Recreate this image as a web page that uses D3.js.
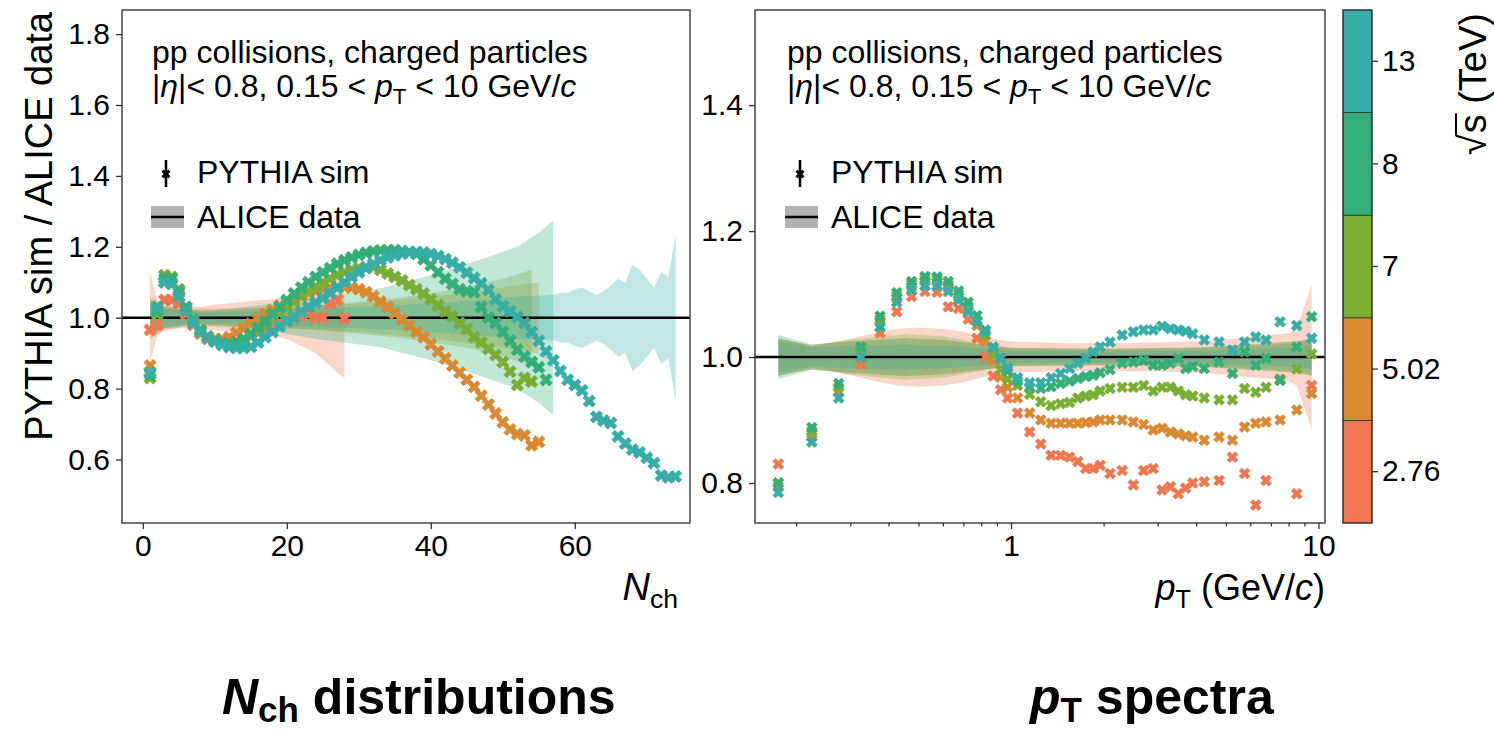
<!DOCTYPE html>
<html>
<head>
<meta charset="utf-8">
<script src="https://cdn.jsdelivr.net/npm/d3@7"></script>
<style>
  body { margin: 0; background: #fff; }
  text { font-family: "Liberation Sans", Arial, Helvetica, sans-serif; fill: #000; white-space: pre; }
</style>
</head>
<body>
<svg id="chart" width="1494" height="733"></svg>
<script>
// ---- energies / colours ----
var energies = ["2.76", "5.02", "7", "8", "13"];
var energyColors = ["#EF7651", "#DA8933", "#79AD34", "#33AE78", "#36ADA6"];

// ---- Nch panel: PYTHIA / ALICE ratio, one value per Nch bin ----
var nchBins = [1,2,3,4,5,6,7,8,9,10,11,12,13,14,15,16,17,18,19,20,21,22,23,24,25,26,27,28,29,30,
  31,32,33,34,35,36,37,38,39,40,41,42,43,44,45,46,47,48,49,50,51,52,53,54,55,56,57,58,59,60,
  61,62,63,64,65,66,67,68,69,70,71,72,73,74];
var nchRatio276 = [0.966,0.98,1.05,1.05,1.04,1.01,0.98,0.955,0.94,0.935,
  0.93,0.93,0.935,0.94,0.948,0.957,0.966,0.975,0.985,0.993,
  1.0,1.005,1.01,1.0,1.0,1.04,1.05,0.998];
var nchRatio502 = [0.865,1.03,1.10,1.10,1.07,1.025,0.99,0.962,0.948,0.94,
  0.94,0.945,0.958,0.97,0.983,0.997,1.01,1.022,1.034,1.045,
  1.053,1.062,1.07,1.076,1.08,1.083,1.085,1.086,1.085,1.08,
  1.072,1.06,1.045,1.03,1.012,0.995,0.978,0.96,0.945,0.925,
  0.905,0.885,0.865,0.845,0.825,0.805,0.78,0.755,0.73,0.705,
  0.685,0.672,0.668,0.64,0.65];
var nchRatio7 = [0.83,1.01,1.12,1.115,1.08,1.03,0.995,0.965,0.945,0.935,
  0.928,0.925,0.928,0.935,0.948,0.962,0.978,0.995,1.012,1.03,
  1.045,1.062,1.075,1.088,1.10,1.11,1.12,1.128,1.135,1.14,
  1.143,1.143,1.135,1.125,1.115,1.105,1.092,1.08,1.068,1.052,
  1.035,1.018,1.003,0.985,0.968,0.945,0.93,0.912,0.895,0.875,
  0.848,0.81,0.83,0.82];
var nchRatio8 = [0.84,1.02,1.11,1.11,1.075,1.03,0.995,0.965,0.945,0.935,
  0.928,0.926,0.93,0.94,0.955,0.972,0.99,1.01,1.03,1.05,
  1.068,1.085,1.10,1.115,1.128,1.14,1.152,1.162,1.17,1.177,
  1.183,1.187,1.19,1.19,1.19,1.188,1.185,1.18,1.165,1.148,
  1.128,1.11,1.095,1.08,1.075,1.072,1.03,1.0,0.985,0.96,
  0.935,0.91,0.89,0.875,0.86,0.825];
var nchRatio13 = [0.845,1.03,1.10,1.095,1.06,1.02,0.985,0.96,0.945,0.932,
  0.923,0.917,0.915,0.915,0.918,0.93,0.945,0.96,0.975,0.99,
  1.002,1.016,1.03,1.042,1.056,1.07,1.085,1.10,1.115,1.128,
  1.14,1.152,1.162,1.17,1.176,1.181,1.184,1.185,1.184,1.18,
  1.174,1.165,1.155,1.142,1.127,1.112,1.097,1.078,1.052,1.032,
  1.018,1.002,0.985,0.96,0.935,0.905,0.88,0.85,0.825,0.81,
  0.795,0.765,0.72,0.71,0.703,0.665,0.645,0.628,0.62,0.605,
  0.59,0.555,0.55,0.552];

// ALICE relative uncertainty (half width around 1) in the Nch panel
var nchBandX276 = [1,2,3,5,8,10,12,15,18,20,22,24,26,27,28];
var nchBandW276 = [0.125,0.05,0.035,0.03,0.03,0.037,0.04,0.047,0.052,0.06,0.08,0.1,0.135,0.155,0.17];
var nchBandX502 = [1,3,6,10,15,20,25,30,35,40,45,50,55];
var nchBandW502 = [0.06,0.035,0.025,0.025,0.028,0.03,0.035,0.04,0.05,0.06,0.07,0.085,0.1];
var nchBandX7 = [1,3,6,10,15,20,25,30,35,40,45,50,54];
var nchBandW7 = [0.05,0.03,0.02,0.02,0.025,0.03,0.035,0.045,0.055,0.07,0.085,0.11,0.135];
var nchBandX8 = [1,3,8,12,16,20,24,28,33,40,47,52,55,57];
var nchBandW8 = [0.05,0.03,0.02,0.025,0.035,0.045,0.06,0.07,0.083,0.12,0.165,0.2,0.24,0.275];
var nchBandX13 = [1,3,8,15,20,25,30,35,40,45,50,52,56,57,58,59,60,61,62,63,64,65,66,67,68,69,70,71,72,73,74];
var nchBandW13 = [0.04,0.025,0.015,0.018,0.022,0.026,0.03,0.035,0.04,0.047,0.055,0.06,0.063,0.065,0.07,0.07,
  0.08,0.085,0.075,0.065,0.075,0.09,0.11,0.1,0.15,0.135,0.11,0.085,0.13,0.115,0.235];

// ---- pT panel ----
var ptBins = [0.175,0.225,0.275,0.325,0.375,0.425,0.475,0.525,0.575,0.625,0.675,0.725,0.775,0.825,0.875,0.925,0.975,
  1.05,1.15,1.25,1.35,1.45,1.55,1.65,1.75,1.85,1.95,
  2.1,2.3,2.5,2.7,2.9,3.1,3.3,3.5,3.7,3.9,
  4.25,4.75,5.25,5.75,6.25,6.75,7.5,8.5,9.5];
var ptRatio276 = [0.83,0.873,0.945,0.988,1.038,1.072,1.096,1.104,1.103,1.08,1.077,1.06,1.03,1.0,0.97,0.948,0.935,
  0.911,0.881,0.862,0.844,0.844,0.841,0.834,0.823,0.823,0.828,
  0.815,0.82,0.797,0.82,0.823,0.789,0.794,0.783,0.792,0.8,
  0.802,0.804,0.841,0.815,0.765,0.804,0.965,0.783,0.955];
var ptRatio502 = [0.795,0.878,0.945,1.008,1.055,1.093,1.112,1.12,1.119,1.11,1.095,1.075,1.05,1.025,0.995,0.968,0.952,
  0.935,0.911,0.9,0.895,0.895,0.895,0.895,0.896,0.897,0.9,
  0.9,0.9,0.897,0.893,0.884,0.887,0.881,0.878,0.875,0.873,
  0.868,0.873,0.868,0.889,0.895,0.897,0.9,0.916,0.942];
var ptRatio7 = [0.80,0.882,0.952,1.012,1.06,1.097,1.116,1.124,1.123,1.115,1.1,1.081,1.058,1.035,1.005,0.98,0.965,
  0.955,0.941,0.929,0.923,0.926,0.928,0.935,0.938,0.94,0.946,
  0.95,0.952,0.952,0.955,0.946,0.952,0.952,0.946,0.94,0.938,
  0.935,0.932,0.932,0.95,0.944,0.952,0.963,0.981,1.005];
var ptRatio8 = [0.80,0.888,0.958,1.016,1.065,1.102,1.12,1.128,1.127,1.12,1.105,1.087,1.066,1.043,1.016,0.998,0.978,
  0.962,0.952,0.95,0.953,0.958,0.962,0.966,0.969,0.971,0.975,
  0.98,0.99,0.992,0.995,0.987,0.987,0.99,0.998,0.982,0.985,
  0.982,0.992,0.974,1.008,0.987,0.998,0.963,1.016,1.064];
var ptRatio13 = [0.785,0.865,0.935,1.0,1.048,1.087,1.107,1.113,1.113,1.104,1.09,1.072,1.056,1.04,1.015,0.998,0.983,
  0.967,0.959,0.959,0.967,0.974,0.982,0.99,0.998,1.008,1.016,
  1.024,1.035,1.04,1.043,1.043,1.049,1.045,1.043,1.041,1.037,
  1.027,1.024,1.011,1.024,1.032,1.027,1.056,1.05,1.03];

var ptBandX276 = [0.175,0.225,0.275,0.325,0.375,0.425,0.5,0.6,0.7,0.8,0.9,1.0,1.5,2,3,4,5,6,7,8,8.5,9.5];
var ptBandW276 = [0.03,0.017,0.025,0.033,0.04,0.045,0.047,0.045,0.04,0.033,0.028,0.025,0.022,0.022,0.023,0.025,0.028,0.032,0.035,0.038,0.045,0.115];
var ptBandX = [0.175,0.225,0.3,0.45,0.6,0.8,1,2,4,6,8.5,9.5];
var ptBandW502 = [0.028,0.02,0.025,0.03,0.028,0.02,0.015,0.013,0.015,0.02,0.025,0.03];
var ptBandW7 = [0.03,0.018,0.028,0.036,0.033,0.022,0.014,0.012,0.014,0.018,0.022,0.028];
var ptBandW8 = [0.035,0.02,0.025,0.03,0.027,0.02,0.014,0.013,0.015,0.02,0.025,0.03];
var ptBandW13 = [0.025,0.015,0.018,0.02,0.018,0.014,0.01,0.009,0.01,0.013,0.016,0.02];

// ---- ticks ----
var nchTicksX = [0, 20, 40, 60];
var nchTicksY = [0.6, 0.8, 1.0, 1.2, 1.4, 1.6, 1.8];
var ptTicksX = [1, 10];
var ptMinorX = [0.2,0.3,0.4,0.5,0.6,0.7,0.8,0.9,2,3,4,5,6,7,8,9];
var ptTicksY = [0.8, 1.0, 1.2, 1.4];

var nchSeries = [nchRatio276, nchRatio502, nchRatio7, nchRatio8, nchRatio13];
var nchBands = [[nchBandX276, nchBandW276], [nchBandX502, nchBandW502], [nchBandX7, nchBandW7],
                [nchBandX8, nchBandW8], [nchBandX13, nchBandW13]];
var ptSeries = [ptRatio276, ptRatio502, ptRatio7, ptRatio8, ptRatio13];
var ptBands = [[ptBandX276, ptBandW276], [ptBandX, ptBandW502], [ptBandX, ptBandW7],
               [ptBandX, ptBandW8], [ptBandX, ptBandW13]];

// ---- layout ----
var svg = d3.select("#chart");
var left = {x0: 122, x1: 690, y0: 10, y1: 523};
var right = {x0: 755, x1: 1325, y0: 10, y1: 523};

var xN = d3.scaleLinear().domain([-2.9, 76]).range([left.x0, left.x1]);
var yN = d3.scaleLinear().domain([0.421, 1.868]).range([left.y1, left.y0]);
var xP = d3.scaleLog().domain([0.147, 10.5]).range([right.x0, right.x1]);
var yP = d3.scaleLinear().domain([0.7365, 1.551]).range([right.y1, right.y0]);

var defs = svg.append("defs");
[["clipL", left], ["clipR", right]].forEach(function (c) {
  defs.append("clipPath").attr("id", c[0]).append("rect")
    .attr("x", c[1].x0).attr("y", c[1].y0)
    .attr("width", c[1].x1 - c[1].x0).attr("height", c[1].y1 - c[1].y0);
});

// mixed-style text helper (italic / subscript pieces)
function rich(sel, x, y, parts, size, opts) {
  opts = opts || {};
  var sh = opts.shift || 0.22;
  var t = sel.append("text").attr("x", x).attr("y", y)
    .attr("font-size", size)
    .attr("text-anchor", opts.anchor || "start")
    .attr("font-weight", opts.weight || "normal");
  var shifted = false;
  parts.forEach(function (p) {
    var s = t.append("tspan").text(p.t);
    if (p.i) s.attr("font-style", "italic");
    if (p.sub) {
      s.attr("font-size", size * 0.7).attr("dy", size * sh);
      shifted = true;
    } else if (shifted) {
      s.attr("dy", -size * sh);
      shifted = false;
    }
  });
  return t;
}

// filled "X" marker (same outline as matplotlib's 'X'), w = full box width
function xPath(w) {
  var q = w / 4;
  var v = [[-1,-2],[0,-1],[1,-2],[2,-1],[1,0],[2,1],[1,2],[0,1],[-1,2],[-2,1],[-1,0],[-2,-1]];
  return "M" + v.map(function (p) { return (p[0] * q) + "," + (p[1] * q); }).join("L") + "Z";
}

function drawPanel(box, x, y, series, xs, bands, markW, clipId) {
  var g = svg.append("g");
  var plot = g.append("g").attr("clip-path", "url(#" + clipId + ")");

  // ALICE uncertainty bands
  bands.forEach(function (b, k) {
    var pts = b[0].map(function (v, i) { return [v, b[1][i]]; });
    var area = d3.area()
      .x(function (d) { return x(d[0]); })
      .y0(function (d) { return y(1 - d[1]); })
      .y1(function (d) { return y(1 + d[1]); });
    plot.append("path").attr("d", area(pts))
      .attr("fill", energyColors[k]).attr("fill-opacity", 0.3);
  });

  // reference line at 1
  plot.append("line")
    .attr("x1", box.x0).attr("x2", box.x1)
    .attr("y1", y(1)).attr("y2", y(1))
    .attr("stroke", "#000").attr("stroke-width", 2.5);

  // PYTHIA markers
  var d = xPath(markW);
  series.forEach(function (vals, k) {
    plot.append("g").selectAll("path")
      .data(vals.map(function (v, i) { return [xs[i], v]; }))
      .join("path")
      .attr("d", d)
      .attr("transform", function (p) { return "translate(" + x(p[0]) + "," + y(p[1]) + ")"; })
      .attr("fill", energyColors[k])
      .attr("stroke", energyColors[k]).attr("stroke-width", 0.6);
  });

  // frame
  g.append("rect")
    .attr("x", box.x0).attr("y", box.y0)
    .attr("width", box.x1 - box.x0).attr("height", box.y1 - box.y0)
    .attr("fill", "none").attr("stroke", "#444").attr("stroke-width", 1.5);
  return g;
}

function styleAxis(a) {
  a.select(".domain").remove();
  a.selectAll("line").attr("stroke", "#333").attr("stroke-width", 1.3);
  a.selectAll("text").attr("font-size", 30).attr("fill", "#000")
    .attr("font-family", "Liberation Sans, Arial, sans-serif");
}

// ---- left panel ----
var gL = drawPanel(left, xN, yN, nchSeries, nchBins, nchBands, 12.5, "clipL");
var axL = gL.append("g").attr("transform", "translate(0," + left.y1 + ")")
  .call(d3.axisBottom(xN).tickValues(nchTicksX).tickSize(6).tickPadding(6).tickFormat(d3.format("d")));
styleAxis(axL);
var ayL = gL.append("g").attr("transform", "translate(" + left.x0 + ",0)")
  .call(d3.axisLeft(yN).tickValues(nchTicksY).tickSize(6).tickPadding(6).tickFormat(d3.format(".1f")));
styleAxis(ayL);

// ---- right panel ----
var gR = drawPanel(right, xP, yP, ptSeries, ptBins, ptBands, 11, "clipR");
var axR = gR.append("g").attr("transform", "translate(0," + right.y1 + ")")
  .call(d3.axisBottom(xP).tickValues(ptTicksX).tickSize(6).tickPadding(6).tickFormat(d3.format("d")));
styleAxis(axR);
var axRm = gR.append("g").attr("transform", "translate(0," + right.y1 + ")")
  .call(d3.axisBottom(xP).tickValues(ptMinorX).tickSize(3.5).tickFormat(""));
styleAxis(axRm);
var ayR = gR.append("g").attr("transform", "translate(" + right.x0 + ",0)")
  .call(d3.axisLeft(yP).tickValues(ptTicksY).tickSize(6).tickPadding(6).tickFormat(d3.format(".1f")));
styleAxis(ayR);

// ---- annotations and legends ----
function annotate(x0) {
  rich(svg, x0, 63, [{t: "pp collisions, charged particles"}], 32);
  rich(svg, x0, 97, [{t: "|"}, {t: "η", i: true}, {t: "|< 0.8, 0.15 < "}, {t: "p", i: true},
    {t: "T", sub: true}, {t: " < 10 GeV/"}, {t: "c", i: true}], 32);
}
function legend(x0) {
  // PYTHIA sim: errorbar glyph
  svg.append("line").attr("x1", x0 + 15).attr("x2", x0 + 15).attr("y1", 160).attr("y2", 187)
    .attr("stroke", "#000").attr("stroke-width", 2.5);
  svg.append("path").attr("d", xPath(9))
    .attr("transform", "translate(" + (x0 + 15) + ",174)").attr("fill", "#000");
  rich(svg, x0 + 46, 183, [{t: "PYTHIA sim"}], 32);
  // ALICE data: band + line
  svg.append("rect").attr("x", x0).attr("y", 206).attr("width", 33).attr("height", 22)
    .attr("fill", "#000").attr("fill-opacity", 0.3);
  svg.append("line").attr("x1", x0).attr("x2", x0 + 33).attr("y1", 217).attr("y2", 217)
    .attr("stroke", "#000").attr("stroke-width", 2.5);
  rich(svg, x0 + 46, 228, [{t: "ALICE data"}], 32);
}
annotate(152); legend(151);
annotate(787); legend(785);

// axis titles
svg.append("text").attr("transform", "translate(52,12) rotate(-90)")
  .attr("text-anchor", "end").attr("font-size", 38).text("PYTHIA sim / ALICE data");
rich(svg, 678, 600, [{t: "N", i: true}, {t: "ch", sub: true}], 38, {anchor: "end"});
rich(svg, 1325, 600, [{t: "p", i: true}, {t: "T", sub: true}, {t: " (GeV/"}, {t: "c", i: true}, {t: ")"}], 36, {anchor: "end"});

// bottom titles
rich(svg, 222, 714, [{t: "N", i: true}, {t: "ch", sub: true}, {t: " distributions"}], 50, {weight: "bold", shift: 0.16});
rich(svg, 1030, 714, [{t: "p", i: true}, {t: "T", sub: true}, {t: " spectra"}], 50, {weight: "bold", shift: 0.16});

// ---- colour bar ----
var cb = {x: 1343, w: 29, y0: 10, y1: 523};
var yC = d3.scaleBand().domain(energies.slice().reverse()).range([cb.y0, cb.y1]).paddingInner(0);
var gC = svg.append("g");
gC.selectAll("rect").data(energies).join("rect")
  .attr("x", cb.x).attr("width", cb.w)
  .attr("y", function (d) { return yC(d); }).attr("height", yC.bandwidth())
  .attr("fill", function (d, i) { return energyColors[i]; })
  .attr("stroke", "#333").attr("stroke-width", 0.8);
gC.append("rect").attr("x", cb.x).attr("y", cb.y0).attr("width", cb.w).attr("height", cb.y1 - cb.y0)
  .attr("fill", "none").attr("stroke", "#333").attr("stroke-width", 1.2);
var axC = gC.append("g").attr("transform", "translate(" + (cb.x + cb.w) + ",0)")
  .call(d3.axisRight(yC).tickSize(6).tickPadding(4));
styleAxis(axC);

// colour bar label: sqrt(s) (TeV), rotated, with the radical's bar over the s
var gT = svg.append("g").attr("transform", "translate(1486,13) rotate(-90)");
var lab = gT.append("text").attr("text-anchor", "end").attr("font-size", 38);
lab.append("tspan").text("√");
lab.append("tspan").attr("dx", 1).text("s");
lab.append("tspan").text(" (TeV)");
var extR = lab.node().getExtentOfChar(0);
var extS = lab.node().getExtentOfChar(1);
gT.append("line")
  .attr("x1", extR.x + extR.width - 1.5).attr("x2", extS.x + extS.width + 1)
  .attr("y1", -30).attr("y2", -30)
  .attr("stroke", "#000").attr("stroke-width", 2);
</script>
</body>
</html>
